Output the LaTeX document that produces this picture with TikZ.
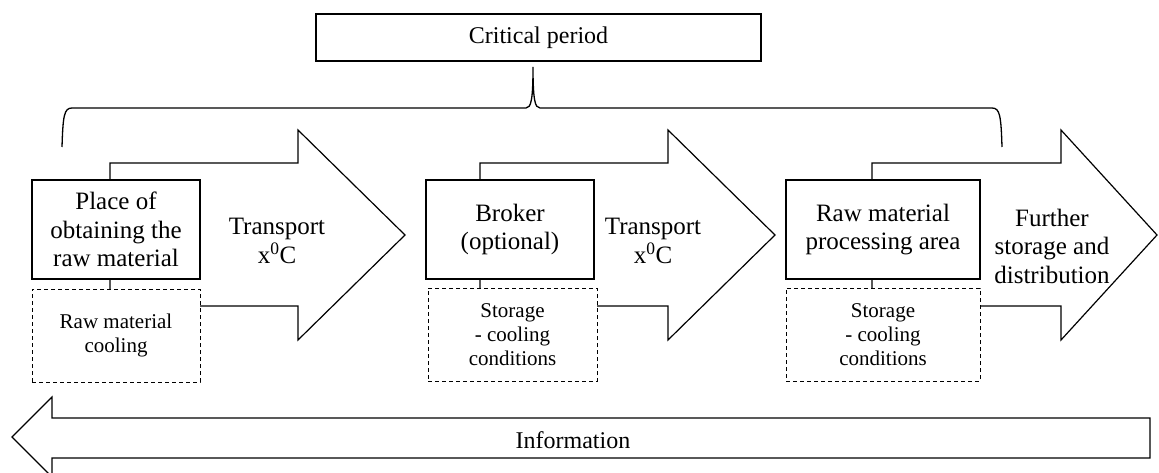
\documentclass[tikz,border=0pt]{standalone}
\usepackage{fontspec}
\setmainfont{Liberation Serif}
\usetikzlibrary{positioning}
\tikzset{stage box/.style={draw, fill=white, line width=1.1pt, align=center,
                           font=\fontsize{25}{28.5}\selectfont, inner sep=0pt},
        cond box/.style={draw, fill=white, line width=0.9pt, dash pattern=on 4pt off 3pt,
                         align=center, font=\fontsize{21}{24}\selectfont, inner sep=0pt},
        flow arrow/.style={draw, fill=white, line width=1.2pt, line join=miter},
        flow text/.style={align=center, font=\fontsize{25}{28.5}\selectfont},
        }

\begin{document}
\begin{tikzpicture}[x=1pt, y=-1pt]
    \useasboundingbox (0,0) rectangle (1159,473);

    % block arrows (drawn first, boxes sit on top)
    \foreach \xa/\xb/\xc [count=\i] in {110/298/405, 480/668/775, 872/1061/1157} {
        \draw [flow arrow] (\xa,306) -- (\xa,163) -- (\xb,163) -- (\xb,130)
            -- (\xc,235) -- (\xb,340) -- (\xb,306) -- cycle;
    }
    \draw [flow arrow] (1150,418) -- (52,418) -- (52,397) -- (12,437)
        -- (52,477) -- (52,458) -- (1150,458) -- cycle;

    \node [stage box, minimum width=445pt, minimum height=47pt,
           font=\fontsize{24}{28}\selectfont] (crit) at (538.5,37.5) {Critical period};

    \node [stage box, minimum width=168pt, minimum height=99pt] (place) at (116,229.5)
        {Place of\\obtaining the\\raw material};
    \node [cond box, minimum width=168pt, minimum height=93pt] (placec) at (116,335.5)
        {Raw material\\cooling};

    \node [stage box, minimum width=168pt, minimum height=99pt] (broker) at (510,229.5)
        {Broker\\(optional)};
    \node [cond box, minimum width=169pt, minimum height=93pt] (brokerc) at (512.5,334.5)
        {Storage\\- cooling\\conditions};

    \node [stage box, minimum width=194pt, minimum height=99pt] (proc) at (883,229.5)
        {Raw material\\processing area};
    \node [cond box, minimum width=194pt, minimum height=93pt] (procc) at (883,334.5)
        {Storage\\- cooling\\conditions};

    \node [flow text] (trans1) at (277,241) {Transport\\x\textsuperscript{0}C};
    \node [flow text] (trans2) at (653,241) {Transport\\x\textsuperscript{0}C};
    \node [flow text] (further) at (1052,246) {Further\\storage and\\distribution};
    \node [flow text, font=\fontsize{24}{28}\selectfont] (info) at (573,440) {Information};

    % brace under the critical period
    \coordinate (tip) at (533,67);
    \draw [line width=1.3pt] (62,147) .. controls (63,116) and (64,108) .. (72,108)
        -- (526,108) .. controls (531,108) and (533,100) .. (tip)
        .. controls (533,100) and (535,108) .. (540,108)
        -- (992,108) .. controls (1000,108) and (1001,116) .. (1002,147);
\end{tikzpicture}
\end{document}
